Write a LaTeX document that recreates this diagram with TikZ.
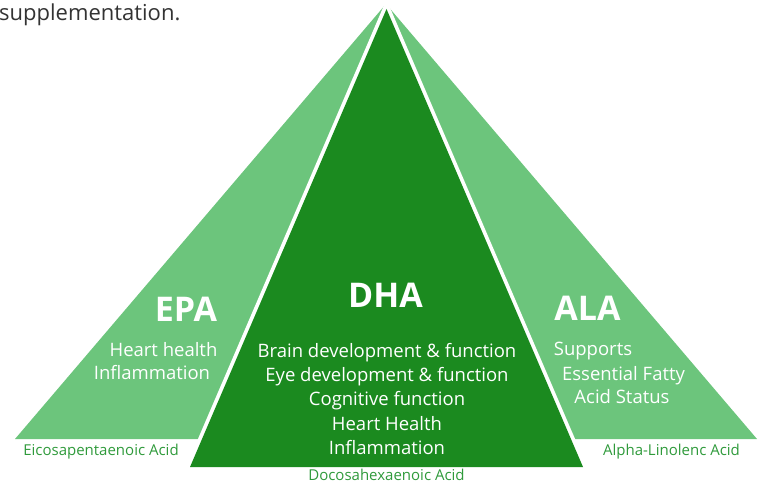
\documentclass[tikz,border=0pt]{standalone}
\usepackage{fontspec}
\setmainfont{Open Sans}
\usepackage{tikz}
\usetikzlibrary{positioning}
\definecolor{lightgreen}{HTML}{6CC57C}
\definecolor{darkgreen}{HTML}{1B8A1F}
\definecolor{acidgreen}{HTML}{2F9A3B}
\definecolor{bodygray}{HTML}{333333}
\begin{document}
\begin{tikzpicture}[x=1pt, y=-1pt,
    title/.style={text=white, inner sep=0pt, font=\fontsize{34}{34}\selectfont\bfseries},
    item/.style={text=white, inner sep=0pt, text height=13pt, text depth=4pt, font=\fontsize{18.5}{18.5}\selectfont},
    acid/.style={text=acidgreen, inner sep=0pt, text depth=0pt, font=\fontsize{15}{15}\selectfont}]
            \useasboundingbox (0,0) rectangle (762,484);
            \coordinate (top) at (386,4);
            \coordinate (apex) at (386.5,9);
            \fill[lightgreen] (top)--(757,439)--(15,439)--cycle;
            \draw[white, line width=7.5pt, line join=miter] (apex)--(583,467)--(190,467)--cycle;
            \fill[darkgreen] (apex)--(583,467)--(190,467)--cycle;
            \node (text) [anchor=base west, inner sep=0pt, text=bodygray, font=\fontsize{22}{22}\selectfont] at (-1,21) {supplementation.};
            \node (epa) [title, anchor=base] at (186,321) {EPA};
            \node (dha) [title, anchor=base] at (385.5,307) {DHA};
            \node (ala) [title, anchor=base] at (587.5,320) {ALA};
            \node (e1) [item, anchor=base] at (163.5,356) {Heart health};
            \node (e2) [item, anchor=base] at (152,379) {Inflammation};
            \node (d1) [item, anchor=base] at (387,357) {Brain development \& function};
            \node (d2) [item, below=7pt of d1] {Eye development \& function};
            \node (d3) [item, below=7pt of d2] {Cognitive function};
            \node (d4) [item, below=7pt of d3] {Heart Health};
            \node (d5) [item, below=7pt of d4] {Inflammation};
            \node (a1) [item, anchor=base] at (593,355) {Supports};
            \node (a2) [item, anchor=base] at (623.5,380) {Essential Fatty};
            \node (a3) [item, anchor=base] at (622,403) {Acid Status};
            \node (epaname) [acid, anchor=base] at (101,455) {Eicosapentaenoic Acid};
            \node (dhaname) [acid, anchor=base] at (386.5,480.5) {Docosahexaenoic Acid};
            \node (alaname) [acid, anchor=base] at (671.5,455) {Alpha-Linolenc Acid};
        \end{tikzpicture}
\end{document}
